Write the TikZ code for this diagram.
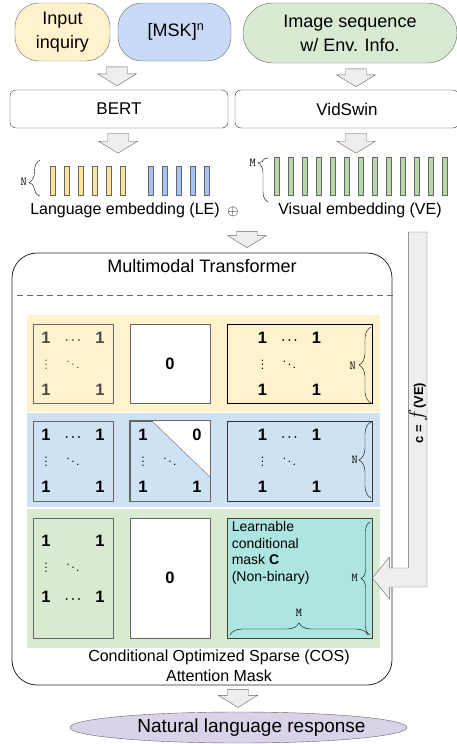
\documentclass[tikz,border=0pt]{standalone}
\usepackage{fontspec}
\setmainfont{Liberation Sans}
\usetikzlibrary{shapes.geometric,decorations.pathreplacing,calc,positioning}

\definecolor{inqyellow}{HTML}{FFF2CC}
\definecolor{mskblue}{HTML}{C9DAF8}
\definecolor{imggreen}{HTML}{D9EAD3}
\definecolor{baryellow}{HTML}{FFE599}
\definecolor{barblue}{HTML}{A4C2F4}
\definecolor{bargreen}{HTML}{B6D7A8}
\definecolor{panelblue}{HTML}{CFE2F3}
\definecolor{maskteal}{HTML}{ADE6E0}
\definecolor{resppurple}{HTML}{D9D2E9}
\definecolor{edgegray}{HTML}{666666}
\definecolor{arrowfill}{HTML}{EEEEEE}

\newcommand{\mcell}[1]{\makebox[27pt]{#1}}
\newcommand{\smallmath}[1]{{\fontsize{12}{12}\selectfont\boldmath$#1$}}
\newcommand{\onesfull}{%
  \mcell{\textbf{1}}\mcell{\smallmath{\cdots}}\mcell{\textbf{1}}\\
  \mcell{\smallmath{\vdots}}\mcell{\smallmath{\ddots}}\mcell{}\\
  \mcell{\textbf{1}}\mcell{}\mcell{\textbf{1}}}
\newcommand{\onestri}{%
  \mcell{\textbf{1}}\mcell{}\mcell{\textbf{0}}\\
  \mcell{\smallmath{\vdots}}\mcell{\smallmath{\ddots}}\mcell{}\\
  \mcell{\textbf{1}}\mcell{}\mcell{\textbf{1}}}
\newcommand{\onesflip}{%
  \mcell{\textbf{1}}\mcell{}\mcell{\textbf{1}}\\
  \mcell{\smallmath{\vdots}}\mcell{\smallmath{\ddots}}\mcell{}\\[4pt]
  \mcell{\textbf{1}}\mcell{\smallmath{\cdots}}\mcell{\textbf{1}}}

\tikzset{
  ovalbox/.style={draw=edgegray, rounded corners=24pt, minimum height=58pt,
    align=center, font=\fontsize{18}{24}\selectfont},
  encbox/.style={draw=black!80, rounded corners=6pt, minimum height=38pt,
    font=\fontsize{17}{17}\selectfont},
  downarrow/.pic={
    \draw[edgegray, fill=arrowfill] (-10.5,0) -- (10.5,0) -- (10.5,-#1+12)
      -- (19.5,-#1+12) -- (0,-#1) -- (-19.5,-#1+12) -- (-10.5,-#1+12) -- cycle;
  },
  embbar/.style={draw=edgegray, line width=0.6pt},
  panel/.style={minimum width=353pt, inner sep=0pt},
  matbox/.style={draw=edgegray, line width=0.8pt, inner sep=0pt},
  mtxtext/.style={align=center, font=\fontsize{16.5}{26}\selectfont},
  bracedeco/.style={decorate, decoration={brace, #1}},
  dimlabel/.style={font=\fontsize{12}{12}\ttfamily, inner sep=1pt},
  label16/.style={font=\fontsize{16}{20}\selectfont, align=center}
}

\begin{document}
\begin{tikzpicture}[x=1pt,y=1pt]
  \useasboundingbox (0,0) rectangle (457,-744);

  % Inputs
  \node[ovalbox, fill=inqyellow, minimum width=95pt] (inq) at (62.5,-32) {Input\\inquiry};
  \node[ovalbox, fill=mskblue, minimum width=113pt] (msk) at (174.5,-32) {\,[MSK]\textsuperscript{n}};
  \node[ovalbox, fill=imggreen, rounded corners=30pt,
    minimum width=214pt, minimum height=60pt] (img) at (350,-33) {Image sequence\\w/ Env. Info.};

  % Encoders
  \node[encbox, minimum width=218pt] (bert) at (119,-109) {BERT};
  \node[encbox, minimum width=224pt] (vid) at (347,-109) {VidSwin};

  % Block arrows
  \pic at ([xshift=-2pt,yshift=23pt]bert.north) {downarrow=19};
  \pic at ([xshift=9pt,yshift=21pt]vid.north) {downarrow=18};
  \pic at ([xshift=-1pt,yshift=-5pt]bert.south) {downarrow=20};
  \pic at ([xshift=9pt,yshift=-5pt]vid.south) {downarrow=20};

  % Embeddings
  \foreach \i in {0,...,5}
    \draw[embbar, fill=baryellow] (50+14*\i,-166) rectangle ++(5,-29);
  \foreach \i in {0,...,4}
    \draw[embbar, fill=barblue] (148+14*\i,-166) rectangle ++(5,-29);
  \foreach \i in {0,...,12}
    \draw[embbar, fill=bargreen] (274+14*\i,-157) rectangle ++(5,-38);
  \draw[bracedeco={aspect=0.37, amplitude=11pt}] (40,-196) -- (40,-160);
  \node[dimlabel, anchor=east] (leN) at (28,-182) {N};
  \draw[bracedeco={aspect=0.89, amplitude=10pt}] (268,-202) -- (268,-158);
  \node[dimlabel, anchor=east] (veM) at (257,-163) {M};
  \node[label16] (lelabel) at (125,-210) {Language embedding (LE)};
  \node[font=\fontsize{14}{14}\selectfont] (plus) at (233,-212) {$\oplus$};
  \node[label16] (velabel) at (360,-210) {Visual embedding (VE)};

  % Multimodal Transformer
  \node[draw=black!85, line width=0.8pt, rounded corners=25pt,
    minimum width=380pt, minimum height=432pt] (trans) at (202,-469) {};
  \pic at ([xshift=45pt,yshift=21pt]trans.north) {downarrow=16};
  \node[font=\fontsize{18}{18}\selectfont, below=3pt of trans.north] (transtitle) {Multimodal Transformer};
  \draw[edgegray, line width=0.8pt, dash pattern=on 6pt off 4pt] (17,-295) -- (393,-295);

  % Attention mask rows
  \node[panel, fill=inqyellow, minimum height=97pt] (rowle) at (203.5,-363.5) {};
  \node[panel, fill=panelblue, minimum height=94pt] (rowmsk) at (203.5,-460) {};
  \node[panel, fill=imggreen, minimum height=139pt] (rowve) at (203.5,-578.5) {};

  % LE row
  \node[matbox, fill=inqyellow, minimum width=80pt, minimum height=79pt] (le1) at (73,-363.5) {};
  \node[matbox, fill=white, minimum width=80pt, minimum height=79pt] (le2) at (170,-363.5) {};
  \node[matbox, draw=black, fill=inqyellow, minimum width=145pt, minimum height=79pt] (le3) at (299.5,-363.5) {};
  \node[mtxtext, text=black!70] (le1t) at (le1.center) {\onesfull};
  \node[mtxtext] (le2t) at (le2.center) {\textbf{0}};
  \node[mtxtext] (le3t) at ([xshift=-10pt]le3.center) {\onesfull};
  \draw[bracedeco={amplitude=12pt}] (371,-403) -- (371,-327);
  \node[dimlabel, anchor=east] (le3N) at (357,-366) {N};

  % MSK row
  \node[matbox, fill=panelblue, minimum width=80pt, minimum height=80pt] (msk1) at (73,-461) {};
  \node[matbox, fill=panelblue, minimum width=80pt, minimum height=80pt] (msk2) at (170,-461) {};
  \fill[white] ([xshift=22pt]msk2.north west) -- (msk2.north east) -- ([yshift=24pt]msk2.south east) -- cycle;
  \draw[edgegray] ([xshift=22pt]msk2.north west) -- ([yshift=24pt]msk2.south east);
  \draw[edgegray, line width=0.8pt] (msk2.north west) rectangle (msk2.south east);
  \node[matbox, draw=black!80, fill=panelblue, minimum width=145pt, minimum height=80pt] (msk3) at (299.5,-461) {};
  \node[mtxtext] (msk1t) at (msk1.center) {\onesfull};
  \node[mtxtext] (msk2t) at (msk2.center) {\onestri};
  \node[mtxtext] (msk3t) at ([xshift=-10pt]msk3.center) {\onesfull};
  \draw[bracedeco={amplitude=12pt}] (371,-498) -- (371,-422);
  \node[dimlabel, anchor=east] (msk3N) at (359,-460) {N};

  % VE row
  \node[matbox, fill=imggreen, minimum width=80pt, minimum height=120pt] (ve1) at (73,-578) {};
  \node[matbox, fill=white, minimum width=80pt, minimum height=120pt] (ve2) at (170,-578) {};
  \node[matbox, draw=black!75, fill=maskteal, minimum width=145pt, minimum height=120pt] (ve3) at (299.5,-578) {};
  \node[mtxtext] (ve1t) at ([yshift=9pt]ve1.center) {\onesflip};
  \node[mtxtext] (ve2t) at (ve2.center) {\textbf{0}};
  \node[anchor=north west, align=left, inner sep=0pt,
    font=\fontsize{14}{16.5}\selectfont] (ve3t) at ([xshift=5pt,yshift=-4pt]ve3.north west)
    {Learnable\\conditional\\mask $\mathbf{C}$\\(Non-binary)};
  \draw[bracedeco={amplitude=9pt}] (370,-635) -- (370,-522);
  \node[dimlabel, anchor=east] (ve3M) at (359,-578) {M};
  \draw[bracedeco={amplitude=12pt}] (230,-635) -- (368,-635);
  \node[dimlabel, anchor=south] (ve3Mb) at (299,-618) {M};

  % Mask caption
  \node[label16] (cosname) at (219,-666) {Conditional Optimized Sparse (COS)\\Attention Mask};

  % Conditional mask arrow
  \coordinate (vetop) at (408,-232);
  \draw[edgegray, fill=arrowfill] (ve3.east) -- ++(17,21) -- ++(0,-11) -- ++(19,0)
    |- (vetop) -- ++(19,0) |- ($(ve3.east)+(17,-9)$) -- ++(0,-12) -- cycle;
  \node[rotate=90, font=\bfseries\fontsize{13}{13}\selectfont] (cfve) at (418,-413)
    {c = {\fontsize{22}{22}\selectfont$f$}(VE)};

  % Response
  \pic at ([xshift=36pt,yshift=-4pt]trans.south) {downarrow=18};
  \node[ellipse, draw=edgegray, fill=resppurple, minimum width=337pt,
    minimum height=31pt] (resp) at (238.5,-727.5) {};
  \node[font=\fontsize{19}{19}\selectfont] (resptxt) at ([xshift=13pt]resp.center) {Natural language response};
\end{tikzpicture}
\end{document}
